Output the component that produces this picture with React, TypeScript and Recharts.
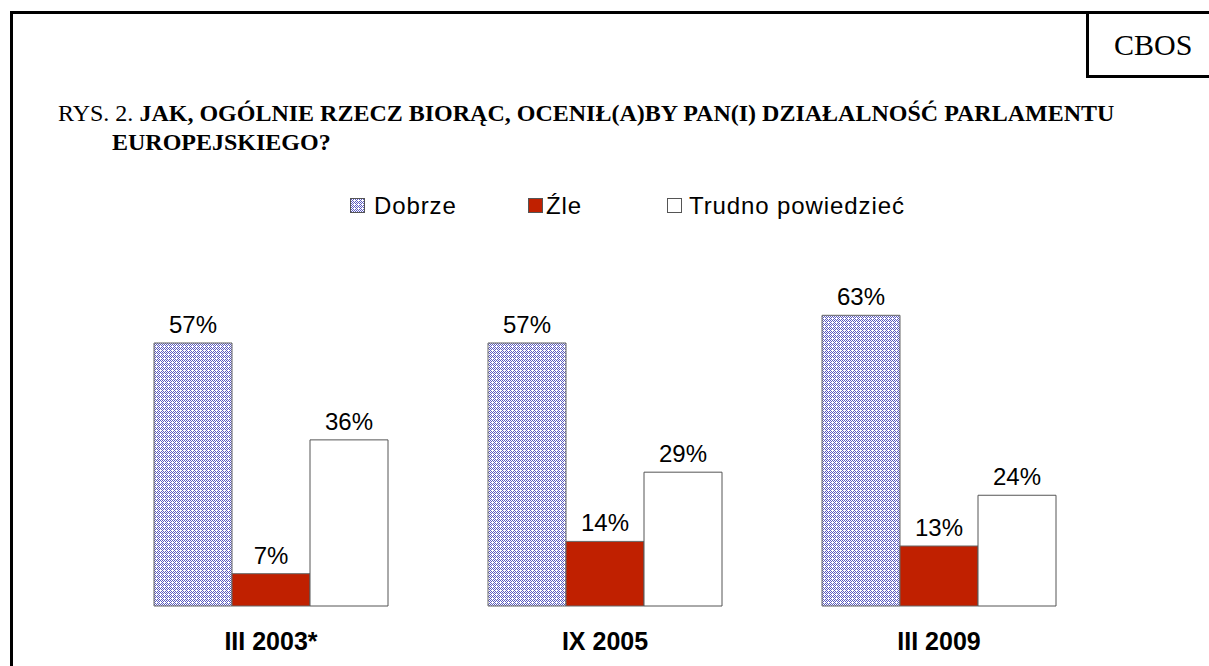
import React from "react";
import { BarChart, Bar, XAxis, YAxis, Legend, LabelList } from "recharts";

const categories = ["III 2003*", "IX 2005", "III 2009"];
const dobrze = [57, 57, 63];
const zle = [7, 14, 13];
const trudno = [36, 29, 24];
const seriesNames = ["Dobrze", "Źle", "Trudno powiedzieć"];

const data = categories.map((name, i) => ({
  name,
  dobrze: dobrze[i],
  zle: zle[i],
  trudno: trudno[i],
}));

const pct = (v: any) => `${v}%`;

const latticeCells = [
  [0, 0],
  [1, 1],
  [2, 2],
  [3, 3],
  [1, 3],
  [3, 1],
  [2, 0],
];

const PatternDef = ({ id }: { id: string }) => (
  <pattern id={id} width="4" height="4" patternUnits="userSpaceOnUse">
    <rect width="4" height="4" fill="#fff" />
    {latticeCells.map(([cx, cy]) => (
      <rect key={`${cx}-${cy}`} x={cx} y={cy} width={1} height={1} fill="#5c5cc0" shapeRendering="crispEdges" />
    ))}
  </pattern>
);

const LegendContent = () => {
  const items = [
    { name: seriesNames[0], box: 350, text: 374, fill: "url(#lgpat)" },
    { name: seriesNames[1], box: 528, text: 546, fill: "#C02000" },
    { name: seriesNames[2], box: 667, text: 689, fill: "#ffffff" },
  ];
  return (
    <div style={{ position: "relative", width: 1209, height: 30 }}>
      <svg width={0} height={0} style={{ position: "absolute" }}>
        <defs>
          <PatternDef id="lgpat" />
        </defs>
      </svg>
      {items.map((it) => (
        <React.Fragment key={it.name}>
          <svg
            width={16}
            height={16}
            style={{ position: "absolute", left: it.box, top: 7 }}
          >
            <rect x={0.5} y={0.5} width={14} height={14} fill={it.fill} stroke="#555" strokeWidth={1} />
          </svg>
          <div
            style={{
              position: "absolute",
              left: it.text,
              top: 0,
              fontFamily: "Arial, 'Liberation Sans', sans-serif",
              fontSize: 24,
              letterSpacing: 0.9,
              lineHeight: "30px",
              color: "#000",
              whiteSpace: "nowrap",
            }}
          >
            {it.name}
          </div>
        </React.Fragment>
      ))}
    </div>
  );
};

const XTick = (props: any) => {
  const { x, payload } = props;
  return (
    <text
      x={x}
      y={650}
      textAnchor="middle"
      fontFamily="Arial, 'Liberation Sans', sans-serif"
      fontWeight="bold"
      fontSize={25}
      fill="#000"
    >
      {payload.value}
    </text>
  );
};

const labelProps = {
  position: "top" as const,
  offset: 10,
  formatter: pct,
  fill: "#000",
  fontSize: 24,
  fontFamily: "Arial, 'Liberation Sans', sans-serif",
};

export default function App() {
  return (
    <div
      style={{
        position: "absolute",
        left: 0,
        top: 0,
        width: 1209,
        height: 666,
        background: "#fff",
        overflow: "hidden",
      }}
    >
      <div
        style={{
          position: "absolute",
          left: 10,
          top: 11,
          width: 1205,
          height: 670,
          border: "3px solid #000",
          boxSizing: "border-box",
        }}
      />
      <div
        style={{
          position: "absolute",
          left: 1086,
          top: 11,
          width: 130,
          height: 67,
          border: "3px solid #000",
          boxSizing: "border-box",
          display: "flex",
          alignItems: "center",
          paddingLeft: 25,
          fontFamily: "'Times New Roman', 'Liberation Serif', serif",
          fontSize: 30,
          color: "#000",
        }}
      >
        CBOS
      </div>
      <div
        style={{
          position: "absolute",
          left: 58,
          top: 99,
          width: 1140,
          fontFamily: "'Times New Roman', 'Liberation Serif', serif",
          fontSize: 24,
          lineHeight: "29px",
          color: "#000",
        }}
      >
        <div style={{ whiteSpace: "nowrap" }}>
          RYS. 2.{" "}
          <b>JAK, OGÓLNIE RZECZ BIORĄC, OCENIŁ(A)BY PAN(I) DZIAŁALNOŚĆ PARLAMENTU</b>
        </div>
        <div style={{ paddingLeft: 54, fontWeight: "bold" }}>EUROPEJSKIEGO?</div>
      </div>
      <div style={{ position: "absolute", left: 0, top: 0 }}>
        <BarChart
          width={1209}
          height={666}
          data={data}
          margin={{ top: 283, right: 103, bottom: 0, left: 104 }}
          barCategoryGap={50}
          barGap={0}
        >
          <defs>
            <PatternDef id="lattice" />
          </defs>
          <XAxis
            dataKey="name"
            axisLine={false}
            tickLine={false}
            tick={<XTick />}
            height={60}
          />
          <YAxis hide domain={[0, 70]} />
          <Legend
            layout="horizontal"
            verticalAlign="middle"
            align="center"
            content={<LegendContent />}
            wrapperStyle={{ top: 191, left: 0, width: 1209 }}
          />
          <Bar dataKey="dobrze" name={seriesNames[0]} fill="url(#lattice)" stroke="#666" strokeWidth={1} isAnimationActive={false}>
            <LabelList dataKey="dobrze" {...labelProps} />
          </Bar>
          <Bar dataKey="zle" name={seriesNames[1]} fill="#C02000" stroke="#666" strokeWidth={1} isAnimationActive={false}>
            <LabelList dataKey="zle" {...labelProps} />
          </Bar>
          <Bar dataKey="trudno" name={seriesNames[2]} fill="#ffffff" stroke="#555" strokeWidth={1} isAnimationActive={false}>
            <LabelList dataKey="trudno" {...labelProps} />
          </Bar>
        </BarChart>
      </div>
    </div>
  );
}
